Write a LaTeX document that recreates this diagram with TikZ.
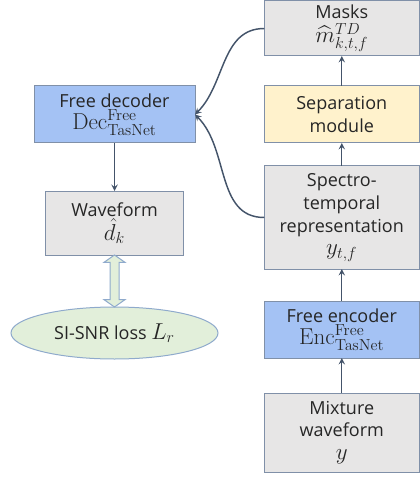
\documentclass[tikz,border=0pt]{standalone}
\usepackage{amsmath}
\usepackage[no-math]{fontspec}
\setmainfont{Open Sans}
\usepackage{tikz}
\usetikzlibrary{positioning,shapes.geometric,shapes.arrows}
\definecolor{boxgray}{HTML}{E7E6E6}
\definecolor{boxline}{HTML}{8090A8}
\definecolor{boxblue}{HTML}{A4C2F4}
\definecolor{boxyellow}{HTML}{FFF2CC}
\definecolor{lossgreen}{HTML}{E2EFDA}
\definecolor{lossline}{HTML}{8FAACC}
\definecolor{arrowcol}{HTML}{44546A}
\newcommand{\bigmath}[1]{{\fontsize{17}{17}\selectfont$#1$}}

\begin{document}
\begin{tikzpicture}[x=0.75pt, y=-0.75pt,
  block/.style={draw=boxline, line width=0.75pt, rectangle, outer sep=0pt, align=center,
    font=\fontsize{13.5}{17}\selectfont, text=black!85},
  graybox/.style={block, fill=boxgray},
  bluebox/.style={block, fill=boxblue},
  yellowbox/.style={block, fill=boxyellow},
  flow/.style={->, >=stealth, line width=1.1pt, arrowcol}]
\useasboundingbox (0,0) rectangle (420,477);

% right column
\node[graybox, minimum width=116.25pt, minimum height=41.25pt, inner sep=1pt] (masks) at (341.75,28.5) {Masks\\[1pt]\bigmath{\widehat{m}^{TD}_{k,t,f}}};
\node[yellowbox, minimum width=116.25pt, minimum height=42.75pt, below=22.5pt of masks] (sep) {Separation\\module};
\node[graybox, minimum width=116.25pt, minimum height=77.25pt, below=17.25pt of sep] (spec) {Spectro-\\temporal\\representation\\\bigmath{y_{t,f}}};
\node[bluebox, minimum width=116.25pt, minimum height=42.75pt, below=24pt of spec] (enc) {Free encoder\\\bigmath{\mathrm{Enc}^{\mathrm{Free}}_{\mathrm{TasNet}}}};
\node[graybox, minimum width=116.25pt, minimum height=59.25pt, below=26.25pt of enc] (mix) {Mixture\\waveform\\\bigmath{y}};

% left column
\node[bluebox, minimum width=120.75pt, minimum height=42.75pt] (dec) at (114.5,114.5) {Free decoder\\\bigmath{\mathrm{Dec}^{\mathrm{Free}}_{\mathrm{TasNet}}}};
\node[graybox, minimum width=103.5pt, minimum height=48pt, below=36pt of dec] (wave) {Waveform\\[1pt]\bigmath{\hat{d}_k}};
\node[ellipse, draw=lossline, line width=0.75pt, fill=lossgreen, outer sep=0pt, minimum width=155.25pt, minimum height=39pt,
  font=\fontsize{13.5}{17}\selectfont, text=black!85, below=39pt of wave] (loss) {SI-SNR loss \bigmath{L_r}};

\draw [flow] (mix) -- (enc);
\draw [flow] (enc) -- (spec);
\draw [flow] (spec) -- (sep);
\draw [flow] (sep) -- (masks);
\draw [flow] (dec) -- (wave);
\draw [flow] (masks.west) to[out=180, in=45] (dec.east);
\draw [flow] (spec.west) to[out=180, in=-45] (dec.east);

\path (wave.south) -- (loss.north) node[midway, double arrow, shape border rotate=90, draw=lossline, line width=0.75pt,
  fill=lossgreen, minimum height=39pt, minimum width=15pt, inner sep=3pt, double arrow head extend=4.5pt,
  double arrow tip angle=110] (link) {};
\end{tikzpicture}
\end{document}
